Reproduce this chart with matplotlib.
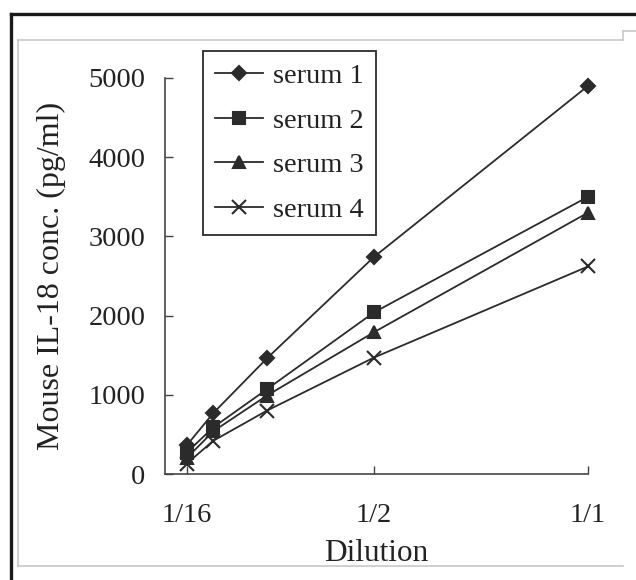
import matplotlib
matplotlib.use("Agg")
import matplotlib.pyplot as plt
from matplotlib.lines import Line2D

# dilution factors and IL-18 readings (pg/ml)
dilution = [1/16, 1/8, 1/4, 1/2, 1]
serum1 = [360, 770, 1460, 2740, 4900]
serum2 = [270, 590, 1070, 2040, 3500]
serum3 = [200, 540, 990, 1790, 3300]
serum4 = [130, 420, 800, 1470, 2620]
xtick_pos = [1/16, 1/2, 1]
xtick_labels = ["1/16", "1/2", "1/1"]
yticks = [0, 1000, 2000, 3000, 4000, 5000]

plt.rcParams["font.family"] = ["Liberation Serif", "DejaVu Serif"]
ink = "#2b2b2b"

fig = plt.figure(figsize=(6.36, 5.80), dpi=100)
W, H = 636, 580
ax = fig.add_axes([165 / W, 106 / H, 423 / W, 396 / H])

series = [
    (serum1, "D", 7.5, "serum 1"),
    (serum2, "s", 8.5, "serum 2"),
    (serum3, "^", 8.5, "serum 3"),
    (serum4, "x", 9.5, "serum 4"),
]
for vals, mk, ms, lab in series:
    ax.plot(dilution, vals, color=ink, lw=1.3, marker=mk, markersize=ms,
            markerfacecolor=ink, markeredgecolor=ink, markeredgewidth=1.5,
            label=lab, clip_on=False, zorder=3)

ax.set_xlim(0.012, 1.0)
ax.set_ylim(0, 5000)
ax.set_xticks(xtick_pos)
ax.set_xticklabels(xtick_labels)
ax.set_yticks(yticks)
for s in ["top", "right"]:
    ax.spines[s].set_visible(False)
for s in ["left", "bottom"]:
    ax.spines[s].set_color("#444444")
    ax.spines[s].set_linewidth(1.2)
ax.tick_params(axis="both", direction="in", length=6, width=1.0, color="#444444",
               labelsize=20.5, labelcolor="#222222")
ax.tick_params(axis="x", pad=21)
ax.tick_params(axis="y", pad=14)

ax.set_xlabel("Dilution", fontsize=22.5, color="#222222", labelpad=8)
ax.set_ylabel("Mouse IL-18 conc. (pg/ml)", fontsize=23, color="#222222", labelpad=16)

leg = ax.legend(loc="upper left", bbox_to_anchor=(203 / W, 1 - 51 / H),
                bbox_transform=fig.transFigure, borderaxespad=0, fontsize=20.5,
                frameon=True, fancybox=False, framealpha=1, edgecolor=ink,
                handlelength=1.7, handletextpad=0.35, labelspacing=0.66,
                borderpad=0.42)
leg.get_frame().set_linewidth(1.3)
for t in leg.get_texts():
    t.set_color("#222222")

# scanned page frame
def px_line(x0, y0, x1, y1, color, lw):
    fig.add_artist(Line2D([x0 / W, x1 / W], [1 - y0 / H, 1 - y1 / H],
                          color=color, lw=lw, transform=fig.transFigure))

px_line(10.5, 13.5, 10.5, 580, "#1a1a1a", 2.4)
px_line(10.5, 13.5, 636, 13.5, "#1a1a1a", 2.4)
px_line(17.5, 40, 17.5, 566, "#c8c8c8", 1.2)
px_line(17.5, 40, 623, 40, "#c8c8c8", 1.2)
px_line(623, 40, 623, 31, "#c8c8c8", 1.2)
px_line(623, 31, 636, 31, "#c8c8c8", 1.2)
px_line(17.5, 566, 623, 566, "#c8c8c8", 1.2)

fig.savefig("out.png", dpi=100)
